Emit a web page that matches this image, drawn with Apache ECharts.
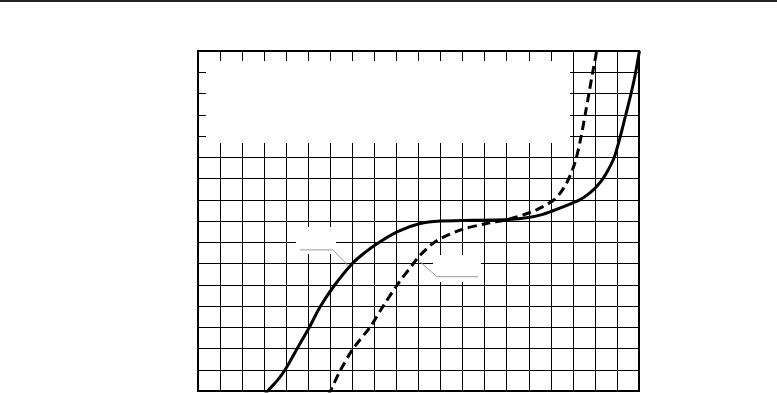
<!DOCTYPE html>
<html>
<head>
<meta charset="utf-8">
<script src="https://cdn.jsdelivr.net/npm/echarts@6/dist/echarts.min.js"></script>
<style>html,body{margin:0;padding:0;background:#fff;}#c{width:777px;height:393px;}</style>
</head>
<body>
<div id="c"></div>
<script>
// Curve data in grid units (x: 0..20, y: 0..16)
const solidCurve = [[3.0,-0.2],[3.2,0.05],[3.6,0.5],[3.95,1],[4.5,2],[5.05,3],[5.56,4],[6.21,5],[7.0,6],[7.55,6.5],[8.1,6.92],[9.05,7.5],[10.07,7.88],[11.0,8.0],[12.0,8.02],[13.0,8.04],[14.07,8.07],[15.06,8.18],[15.6,8.3],[16.07,8.47],[16.7,8.72],[17.1,8.9],[17.4,9.05],[17.8,9.35],[18.1,9.65],[18.35,9.97],[18.6,10.4],[18.88,11.0],[19.15,11.97],[19.4,13],[19.64,14],[19.82,14.85],[20.02,16]];
const dashedCurve = [[5.9,-0.2],[6.03,0.05],[6.47,1],[7.04,2],[7.8,3],[8.4,4],[9.04,5],[9.77,6],[10.07,6.38],[10.65,6.95],[11.05,7.2],[12.03,7.62],[13.09,7.88],[14.07,8.08],[15.06,8.4],[15.6,8.65],[16.15,9.0],[16.45,9.35],[16.7,9.75],[16.9,10.2],[17.05,10.6],[17.2,11.15],[17.37,11.95],[17.55,12.95],[17.73,14],[17.9,15],[18.08,16],[18.15,16.5]];
// Callout leader lines
const callout1 = [[4.63,6.64],[6.12,6.64],[6.85,5.85]];
const callout2 = [[10.07,6.08],[10.83,5.38],[12.71,5.38]];
// Blank (label) areas covering the grid
const blankAreas = [
  [[0.36,15.53],[16.87,11.67]],
  [[4.44,7.72],[6.26,6.45]],
  [[10.66,6.4],[12.83,5.13]]
];
const xRange = [0,20], yRange = [0,16];

const chart = echarts.init(document.getElementById('c'), null, {renderer:'canvas'});
chart.setOption({
  animation:false,
  backgroundColor:'#fff',
  graphic:[{type:'rect',left:0,top:0,shape:{x:0,y:0,width:777,height:2},style:{fill:'#222'},z:100}],
  grid:{left:198,top:51,right:138,bottom:2,show:true,borderColor:'#000',borderWidth:2,backgroundColor:'transparent',z:10},
  xAxis:{type:'value',min:xRange[0],max:xRange[1],interval:1,axisLine:{show:false},axisTick:{show:false},axisLabel:{show:false},splitLine:{show:true,lineStyle:{color:'#000',width:1}}},
  yAxis:{type:'value',min:yRange[0],max:yRange[1],interval:1,axisLine:{show:false},axisTick:{show:false},axisLabel:{show:false},splitLine:{show:true,lineStyle:{color:'#000',width:1}}},
  series:[
    {type:'line',data:[],z:1,silent:true,
      markArea:{silent:true,itemStyle:{color:'#fff',opacity:1},
        data:blankAreas.map(a=>[{coord:a[0]},{coord:a[1]}])}},
    {type:'line',data:callout1,z:3,symbol:'none',lineStyle:{color:'#999',width:1}},
    {type:'line',data:callout2,z:3,symbol:'none',lineStyle:{color:'#999',width:1}},
    {type:'line',data:solidCurve,z:5,symbol:'none',smooth:0.3,clip:true,lineStyle:{color:'#000',width:3}},
    {type:'line',data:dashedCurve,z:5,symbol:'none',smooth:0.3,clip:true,lineStyle:{color:'#000',width:3,type:[9,5]}}
  ]
});
</script>
</body>
</html>
